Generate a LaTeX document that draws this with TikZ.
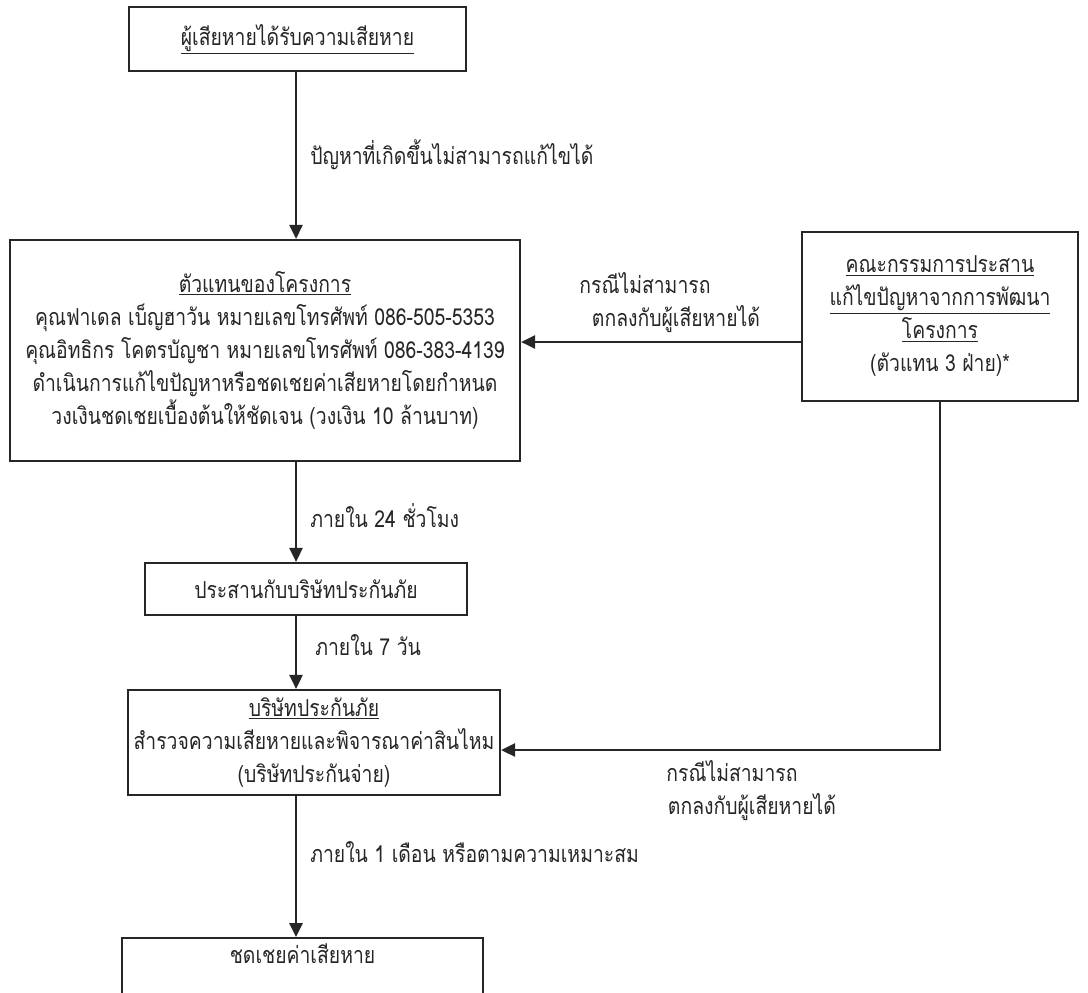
\documentclass[tikz,border=0pt]{standalone}
\usepackage{fontspec}
\setmainfont[Script=Thai,FakeStretch=0.83]{Loma}
\usetikzlibrary{arrows.meta}
\newdimen\px \px=0.75pt
\definecolor{ink}{HTML}{262626}
\tikzset{
  box/.style={draw=ink, line width=1.6pt, inner sep=0pt, align=center, text=ink},
  arr/.style={draw=ink, line width=2pt, -{Triangle[length=10.5pt,width=9.75pt]}},
  lbl/.style={text=ink, align=center, inner sep=0pt},
}
\begin{document}
\begin{tikzpicture}[x=0.75pt,y=-0.75pt,font=\fontsize{17.5pt}{24.75pt}\selectfont]
\useasboundingbox[fill=white] (0,0) rectangle (1088,992);
\begin{scope}
\clip (0,0) rectangle (1088,992);
\node[box, minimum width=337\px, minimum height=64\px] (b1) at (297.5,39) {\underline{ผู้เสียหายได้รับความเสียหาย}};
\node[box, minimum width=510\px, minimum height=221\px] (b2) at (265,350.5) {\underline{ตัวแทนของโครงการ}\\
คุณฟาเดล เบ็ญฮาวัน หมายเลขโทรศัพท์ 086-505-5353\\
คุณอิทธิกร โคตรบัญชา หมายเลขโทรศัพท์ 086-383-4139\\
ดำเนินการแก้ไขปัญหาหรือชดเชยค่าเสียหายโดยกำหนด\\
วงเงินชดเชยเบื้องต้นให้ชัดเจน (วงเงิน 10 ล้านบาท)};
\node[box, minimum width=276\px, minimum height=169\px] (b3) at (940,316.5) {\underline{คณะกรรมการประสาน}\\
\underline{แก้ไขปัญหาจากการพัฒนา}\\
\underline{โครงการ}\\
(ตัวแทน 3 ฝ่าย)*};
\node[box, minimum width=322\px, minimum height=52\px] (b4) at (306,589) {ประสานกับบริษัทประกันภัย};
\node[box, minimum width=372\px, minimum height=105\px] (b5) at (314,742.5) {\underline{บริษัทประกันภัย}\\
สำรวจความเสียหายและพิจารณาค่าสินไหม\\
(บริษัทประกันจ่าย)};
\node[box, anchor=north, minimum width=361\px, text depth=50\px, inner ysep=6\px] (b6) at (302.5,937) {ชดเชยค่าเสียหาย};
\end{scope}
\coordinate (ax) at (296,0);
\coordinate (h1) at (0,342);
\coordinate (h2) at (0,750);
\draw[arr] (b1.south -| ax) -- (b2.north -| ax);
\draw[arr] (b2.south -| ax) -- (b4.north -| ax);
\draw[arr] (b4.south -| ax) -- (b5.north -| ax);
\draw[arr] (b5.south -| ax) -- (b6.north -| ax);
\draw[arr] (b3.west |- h1) -- (b2.east |- h1);
\draw[arr] (b3.south) -- (b3.south |- h2) -- (b5.east |- h2);
\node[lbl, anchor=west] (l1) at (310,155) {ปัญหาที่เกิดขึ้นไม่สามารถแก้ไขได้};
\node[lbl] (l2) at (676,303) {กรณีไม่สามารถ\hspace*{62\px}\\ตกลงกับผู้เสียหายได้};
\node[lbl, anchor=west] (l3) at (310,516) {ภายใน 24 ชั่วโมง};
\node[lbl, anchor=west] (l4) at (315,645) {ภายใน 7 วัน};
\node[lbl] (l5) at (752,791) {กรณีไม่สามารถ\hspace*{40\px}\\ตกลงกับผู้เสียหายได้};
\node[lbl, anchor=west] (l6) at (310,852) {ภายใน 1 เดือน หรือตามความเหมาะสม};
\end{tikzpicture}
\end{document}
